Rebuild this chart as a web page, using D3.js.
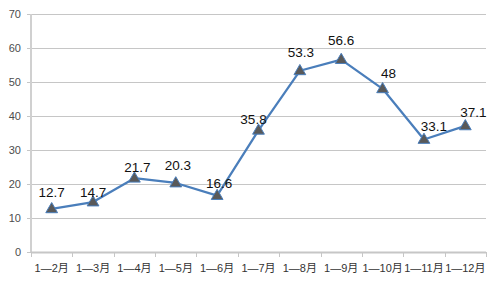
<!DOCTYPE html>
<html><head><meta charset="utf-8">
<script src="https://cdn.jsdelivr.net/npm/d3@7/dist/d3.min.js"></script>
<style>
html,body{margin:0;padding:0;background:#fff;}
svg{display:block;}
</style></head>
<body>
<script>
const categories = ["1—2月","1—3月","1—4月","1—5月","1—6月","1—7月","1—8月","1—9月","1—10月","1—11月","1—12月"];
const values = [12.7,14.7,21.7,20.3,16.6,35.8,53.3,56.6,48,33.1,37.1];
const yTicks = [0,10,20,30,40,50,60,70];
// label nudges (dx, dy from default placement above the point)
const labelDx = [0,0,3,2,2,-5,1,0,6,10,8];
const labelDy = [-17,-10,-11,-18,-12,-11,-19,-19.5,-15.5,-13,-14];

(function(){
const W = 499, H = 284;
const mLeft = 31, mRight = 486, mTop = 14, mBottom = 252;
const font = "'Liberation Sans','Noto Sans CJK SC',Arial,sans-serif";

const svg = d3.select("body").append("svg").attr("width", W).attr("height", H);

const x = d3.scaleBand().domain(categories).range([mLeft, mRight]).padding(0);
const y = d3.scaleLinear().domain([0, 70]).range([mBottom, mTop]);

// gridlines
svg.append("g").selectAll("line").data(yTicks.filter(d => d > 0)).join("line")
  .attr("x1", mLeft - 4).attr("x2", mRight)
  .attr("y1", d => Math.round(y(d)) + 0.5).attr("y2", d => Math.round(y(d)) + 0.5)
  .attr("stroke", "#c6c6c6").attr("stroke-width", 1);

// y axis labels
svg.append("g").selectAll("text").data(yTicks).join("text")
  .attr("x", 21).attr("y", d => y(d)).attr("dy", "0.35em")
  .attr("text-anchor", "end")
  .attr("font-family", font).attr("font-size", 11).attr("fill", "#4d4d4d")
  .text(d => d);

// y axis line
svg.append("line").attr("x1", mLeft).attr("x2", mLeft).attr("y1", mTop).attr("y2", mBottom)
  .attr("stroke", "#d0d0d0").attr("stroke-width", 2);
svg.append("line").attr("x1", mLeft - 4).attr("x2", mLeft).attr("y1", mBottom + 0.5).attr("y2", mBottom + 0.5)
  .attr("stroke", "#c6c6c6");

// x axis
const xAxisG = svg.append("g").attr("transform", `translate(0,${mBottom})`);
xAxisG.append("line").attr("x1", mLeft).attr("x2", mRight).attr("y1", 0.5).attr("y2", 0.5)
  .attr("stroke", "#c6c6c6").attr("stroke-width", 2);
const boundaries = categories.map(c => x(c)).concat([x(categories[categories.length-1]) + x.bandwidth()]);
xAxisG.selectAll("line.tick").data(boundaries).join("line").attr("class","tick")
  .attr("x1", d => Math.round(d) + 0.5).attr("x2", d => Math.round(d) + 0.5)
  .attr("y1", 0).attr("y2", 5).attr("stroke", "#c6c6c6").attr("stroke-width", 1);
xAxisG.selectAll("text").data(categories).join("text")
  .attr("x", d => x(d) + x.bandwidth() / 2).attr("y", 16).attr("dy", "0.35em")
  .attr("text-anchor", "middle")
  .attr("font-family", font).attr("font-size", 11).attr("fill", "#333")
  .text(d => d);

// line
const pts = categories.map((c, i) => [x(c) + x.bandwidth() / 2, y(values[i])]);
svg.append("path").datum(pts)
  .attr("d", d3.line())
  .attr("fill", "none").attr("stroke", "#4a7ebb").attr("stroke-width", 2.25)
  .attr("stroke-linejoin", "round");

// markers
const tri = d3.symbol().type(d3.symbolTriangle).size(60);
svg.append("g").selectAll("path").data(pts).join("path")
  .attr("d", tri)
  .attr("transform", d => `translate(${d[0]},${d[1] + 0.5})`)
  .attr("fill", "#595959").attr("stroke", "#4a7ebb").attr("stroke-width", 1);

// data labels
svg.append("g").selectAll("text").data(values).join("text")
  .attr("x", (d, i) => pts[i][0] + labelDx[i])
  .attr("y", (d, i) => pts[i][1] + labelDy[i])
  .attr("dy", "0.35em")
  .attr("text-anchor", "middle")
  .attr("font-family", font).attr("font-size", 13.5).attr("fill", "#111")
  .text(d => d);
})();
</script>
</body></html>
